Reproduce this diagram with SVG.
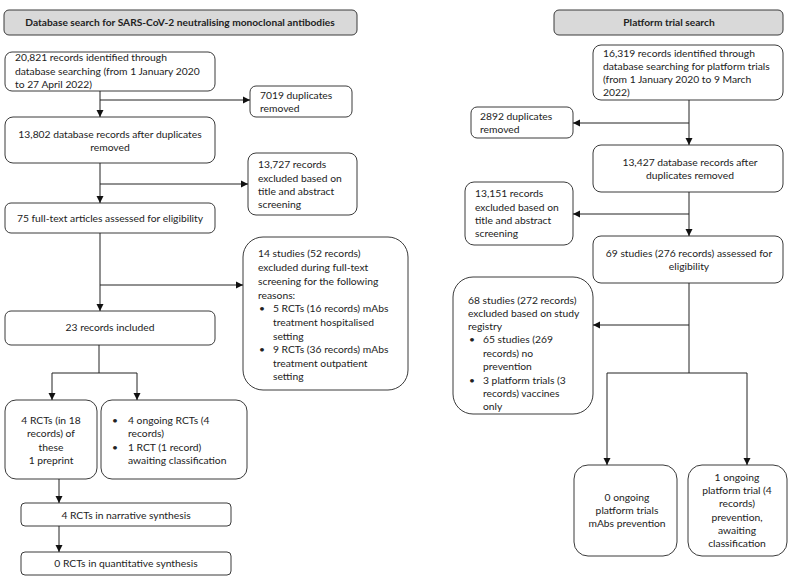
<svg xmlns="http://www.w3.org/2000/svg" width="790" height="579" viewBox="0 0 790 579">
<style>
.box{fill:#fff;stroke:#3a3a3a;stroke-width:1}
.hdr{fill:#d9d9d9;stroke:#3a3a3a;stroke-width:1}
text{font-family:Lato,"Liberation Sans",sans-serif;font-size:10.3px;fill:#222}
.b{font-weight:bold;font-size:10.2px}
.m{text-anchor:middle}
.ln{fill:none;stroke:#222;stroke-width:1}
</style>
<defs>
<marker id="ah" markerWidth="8" markerHeight="8" refX="7" refY="4" orient="auto" markerUnits="userSpaceOnUse">
<path d="M0,0.5 L7,4 L0,7.5 z" fill="#111"/>
</marker>
</defs>
<rect width="790" height="579" fill="#fff"/>

<g id="hdr-left"><rect class="hdr" x="4" y="10" width="353" height="25" rx="5"/><text class="b m" x="180" y="26">Database search for SARS-CoV-2 neutralising monoclonal antibodies</text></g>
<g id="hdr-right"><rect class="hdr" x="554" y="10" width="229" height="25" rx="5"/><text class="b m" x="669" y="26">Platform trial search</text></g>

<g id="L1"><rect class="box" x="5" y="52" width="210" height="39" rx="7"/>
<text x="15" y="61">20,821 records identified through</text>
<text x="15" y="75">database searching (from 1 January 2020</text>
<text x="15" y="88">to 27 April 2022)</text></g>
<g id="L1x"><rect class="box" x="250" y="86" width="102" height="31" rx="6"/>
<text x="260" y="99">7019 duplicates</text><text x="260" y="112">removed</text></g>
<g id="L2"><rect class="box" x="5" y="117" width="210" height="46" rx="8"/>
<text class="m" x="110" y="138">13,802 database records after duplicates</text>
<text class="m" x="110" y="151">removed</text></g>
<g id="L2x"><rect class="box" x="248" y="153" width="109" height="62" rx="8"/>
<text x="258" y="168">13,727 records</text><text x="258" y="182">excluded based on</text><text x="258" y="195">title and abstract</text><text x="258" y="208">screening</text></g>
<g id="L3"><rect class="box" x="5" y="203" width="210" height="30" rx="6"/>
<text class="m" x="110" y="222">75 full-text articles assessed for eligibility</text></g>
<g id="L3x"><rect class="box" x="243" y="237" width="165" height="153" rx="20"/>
<text x="258" y="257">14 studies (52 records)</text>
<text x="258" y="271">excluded during full-text</text>
<text x="258" y="285">screening for the following</text>
<text x="258" y="299">reasons:</text>
<text x="259" y="312">•</text><text x="273" y="312">5 RCTs (16 records) mAbs</text>
<text x="273" y="326">treatment hospitalised</text>
<text x="273" y="340">setting</text>
<text x="259" y="353">•</text><text x="273" y="353">9 RCTs (36 records) mAbs</text>
<text x="273" y="367">treatment outpatient</text>
<text x="273" y="380">setting</text></g>
<g id="L4"><rect class="box" x="5" y="311" width="210" height="34" rx="6"/>
<text class="m" x="110" y="331">23 records included</text></g>
<g id="L5a"><rect class="box" x="5" y="400" width="92" height="79" rx="11"/>
<text class="m" x="51" y="424">4 RCTs (in 18</text><text class="m" x="51" y="437">records) of</text><text class="m" x="51" y="451">these</text><text class="m" x="51" y="464">1 preprint</text></g>
<g id="L5b"><rect class="box" x="101" y="400" width="146" height="79" rx="11"/>
<text x="112" y="424">•</text><text x="128" y="424">4 ongoing RCTs (4</text>
<text x="128" y="437">records)</text>
<text x="112" y="451">•</text><text x="128" y="451">1 RCT (1 record)</text>
<text x="128" y="464">awaiting classification</text></g>
<g id="L6"><rect class="box" x="21" y="503" width="210" height="23" rx="4"/>
<text class="m" x="126" y="519">4 RCTs in narrative synthesis</text></g>
<g id="L7"><rect class="box" x="21" y="552" width="210" height="23" rx="4"/>
<text class="m" x="126" y="567">0 RCTs in quantitative synthesis</text></g>

<g id="R1"><rect class="box" x="593" y="45" width="190" height="55" rx="8"/>
<text x="603" y="57">16,319 records identified through</text>
<text x="603" y="70">database searching for platform trials</text>
<text x="603" y="83">(from 1 January 2020 to 9 March</text>
<text x="603" y="96">2022)</text></g>
<g id="R1x"><rect class="box" x="471" y="107" width="102" height="31" rx="6"/>
<text x="480" y="120">2892 duplicates</text><text x="480" y="133">removed</text></g>
<g id="R2"><rect class="box" x="593" y="145" width="190" height="47" rx="8"/>
<text class="m" x="690" y="166">13,427 database records after</text>
<text class="m" x="690" y="179">duplicates removed</text></g>
<g id="R2x"><rect class="box" x="465" y="182" width="108" height="63" rx="9"/>
<text x="475" y="197">13,151 records</text><text x="475" y="211">excluded based on</text><text x="475" y="224">title and abstract</text><text x="475" y="237">screening</text></g>
<g id="R3"><rect class="box" x="593" y="236" width="190" height="47" rx="8"/>
<text class="m" x="689" y="257">69 studies (276 records) assessed for</text>
<text class="m" x="689" y="270">eligibility</text></g>
<g id="R3x"><rect class="box" x="453" y="277" width="140" height="137" rx="20"/>
<text x="468" y="304">68 studies (272 records)</text>
<text x="468" y="317">excluded based on study</text>
<text x="468" y="330">registry</text>
<text x="469" y="343">•</text><text x="483" y="343">65 studies (269</text>
<text x="483" y="357">records) no</text>
<text x="483" y="370">prevention</text>
<text x="469" y="384">•</text><text x="483" y="384">3 platform trials (3</text>
<text x="483" y="397">records) vaccines</text>
<text x="483" y="410">only</text></g>
<g id="R4"><rect class="box" x="574" y="465" width="103" height="91" rx="14"/>
<text class="m" x="627" y="501">0 ongoing</text><text class="m" x="627" y="514">platform trials</text><text class="m" x="627" y="527">mAbs prevention</text></g>
<g id="R5"><rect class="box" x="688" y="465" width="99" height="91" rx="14"/>
<text class="m" x="737" y="481">1 ongoing</text><text class="m" x="737" y="494">platform trial (4</text><text class="m" x="737" y="507">records)</text><text class="m" x="737" y="521">prevention,</text><text class="m" x="737" y="534">awaiting</text><text class="m" x="737" y="547">classification</text></g>

<g id="connectors">
<path class="ln" d="M100,91 V117" marker-end="url(#ah)"/>
<path class="ln" d="M100,100 H250" marker-end="url(#ah)"/>
<path class="ln" d="M100,163 V203" marker-end="url(#ah)"/>
<path class="ln" d="M100,184 H248" marker-end="url(#ah)"/>
<path class="ln" d="M100,233 V311" marker-end="url(#ah)"/>
<path class="ln" d="M100,285 H243" marker-end="url(#ah)"/>
<path class="ln" d="M99,345 V373 M52,373 H137"/>
<path class="ln" d="M52,373 V400" marker-end="url(#ah)"/>
<path class="ln" d="M137,373 V400" marker-end="url(#ah)"/>
<path class="ln" d="M59,479 V503" marker-end="url(#ah)"/>
<path class="ln" d="M59,526 V552" marker-end="url(#ah)"/>
<path class="ln" d="M689,100 V145" marker-end="url(#ah)"/>
<path class="ln" d="M689,123 H573" marker-end="url(#ah)"/>
<path class="ln" d="M689,192 V236" marker-end="url(#ah)"/>
<path class="ln" d="M689,214 H573" marker-end="url(#ah)"/>
<path class="ln" d="M689,283 V373 M607,373 H747"/>
<path class="ln" d="M689,325 H593" marker-end="url(#ah)"/>
<path class="ln" d="M607,373 V465" marker-end="url(#ah)"/>
<path class="ln" d="M747,373 V465" marker-end="url(#ah)"/>
</g>
</svg>
